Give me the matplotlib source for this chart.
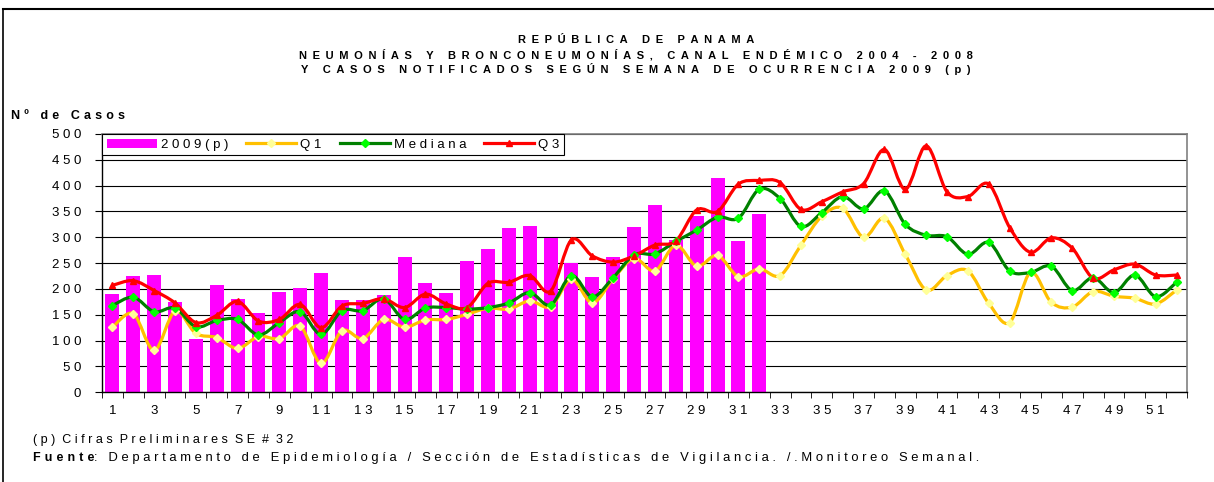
import numpy as np
import matplotlib
matplotlib.use("Agg")
import matplotlib.pyplot as plt
from matplotlib.path import Path
from matplotlib.patches import PathPatch, Patch
from matplotlib.lines import Line2D

plt.rcParams['font.family'] = ['Liberation Sans', 'DejaVu Sans']

# semanas epidemiologicas
semanas = list(range(1, 53))
casos_2009 = [190, 225, 227, 175, 104, 208, 181, 154, 194, 202, 231, 179, 179,
              188, 261, 212, 192, 254, 278, 318, 322, 299, 250, 223, 262, 320,
              363, 295, 341, 415, 293, 345]
q1 = [126, 152, 81, 157, 114, 106, 85, 108, 104, 128, 56, 119, 104,
      141, 126, 140, 141, 151, 163, 161, 177, 166, 219, 173, 220, 259,
      235, 285, 244, 265, 224, 239, 226, 285, 341, 356, 300, 337, 267, 198,
      226, 235, 172, 135, 232, 174, 165, 195, 186, 182, 171, 198]
mediana = [168, 184, 156, 163, 127, 139, 141, 111, 135, 156, 112, 158, 158,
           181, 141, 163, 164, 161, 164, 173, 193, 169, 226, 185, 222, 266,
           268, 292, 314, 339, 337, 393, 375, 321, 348, 379, 355, 390, 325, 304,
           301, 267, 290, 235, 232, 244, 197, 222, 193, 227, 185, 213]
q3 = [207, 216, 197, 173, 135, 149, 176, 138, 141, 170, 125, 167, 172,
      181, 164, 190, 171, 164, 211, 213, 226, 196, 295, 264, 252, 264,
      285, 293, 353, 350, 403, 410, 406, 354, 369, 388, 404, 470, 393, 477,
      388, 379, 403, 319, 271, 299, 279, 221, 237, 248, 227, 227]
yticks = list(range(0, 501, 50))
xlabels = list(range(1, 53, 2))

EN = '\u2002'
TPE = '\u2004'


def sp(s, gap=' ', word=None):
    # espaciado de letras como en excel
    if word is None:
        word = gap + ' ' + gap
    return word.join(gap.join(w) for w in s.split(' '))


def smooth_path(xs, ys):
    pts = np.column_stack([xs, ys]).astype(float)
    verts = [pts[0]]
    codes = [Path.MOVETO]
    n = len(pts)
    for i in range(n - 1):
        p0 = pts[i - 1] if i > 0 else pts[i]
        p1 = pts[i]
        p2 = pts[i + 1]
        p3 = pts[i + 2] if i + 2 < n else pts[i + 1]
        verts += [p1 + (p2 - p0) / 6, p2 - (p3 - p1) / 6, p2]
        codes += [Path.CURVE4] * 3
    return Path(verts, codes)


W, H = 1214, 482
fig = plt.figure(figsize=(W / 100, H / 100), dpi=100)
ax = fig.add_axes([102 / W, 1 - 392.3 / H, 1085 / W, (392.3 - 134) / H])

ax.bar(semanas[:len(casos_2009)], casos_2009, width=0.67, color='#FF00FF', zorder=2)

series = [
    (q1, '#FFC000', 'D', '#FFFF99', 4),
    (mediana, '#008000', 'D', '#00FF00', 4),
    (q3, '#FF0000', '^', '#FF0000', 5),
]
for data, col, mk, mcol, ms in series:
    ax.add_patch(PathPatch(smooth_path(semanas, data), fill=False, edgecolor=col,
                           lw=2.3, zorder=3, capstyle='round', joinstyle='round'))
    ax.plot(semanas, data, ls='none', marker=mk, ms=ms, mfc=mcol, mec=mcol, zorder=4)

ax.set_xlim(0.5, 52.5)
ax.set_ylim(0, 500)
ax.set_yticks(yticks)
ax.set_yticklabels([sp(str(v)) for v in yticks], fontsize=9.5)
ax.set_xticks(xlabels)
ax.set_xticklabels([sp(str(v)) for v in xlabels], fontsize=9.5)
ax.set_xticks(np.arange(0.5, 53, 1), minor=True)
ax.tick_params(axis='x', which='major', length=0, pad=9)
ax.tick_params(axis='x', which='minor', length=4, direction='out', color='black')
ax.tick_params(axis='y', length=5, direction='out', pad=10)
ax.yaxis.grid(True, color='black', lw=0.8)
ax.set_axisbelow(True)
for s in ['top', 'right']:
    ax.spines[s].set_color('#808080')
    ax.spines[s].set_linewidth(1.2)
for s in ['left', 'bottom']:
    ax.spines[s].set_color('black')
    ax.spines[s].set_linewidth(1.0)

handles = [
    Patch(fc='#FF00FF'),
    Line2D([], [], color='#FFC000', lw=2.3, marker='D', ms=4, mfc='#FFFF99', mec='#FFFF99'),
    Line2D([], [], color='#008000', lw=2.3, marker='D', ms=4, mfc='#00FF00', mec='#00FF00'),
    Line2D([], [], color='#FF0000', lw=2.3, marker='^', ms=5, mfc='#FF0000', mec='#FF0000'),
]
labels = [sp('2009(p)'), sp('Q1'), sp('Mediana'), sp('Q3')]
leg = ax.legend(handles, labels, ncol=4, loc='upper left', bbox_to_anchor=(0, 0, 0.426, 1),
                mode='expand', borderaxespad=0, fancybox=False, edgecolor='black',
                framealpha=1, handlelength=3.8, handletextpad=0.3, columnspacing=0.9,
                fontsize=9.5, borderpad=0.35)
leg.get_frame().set_linewidth(0.8)

titulo = ['REPÚBLICA DE PANAMA',
          'NEUMONÍAS Y BRONCONEUMONÍAS, CANAL ENDÉMICO 2004 - 2008',
          'Y CASOS NOTIFICADOS SEGÚN SEMANA DE OCURRENCIA 2009 (p)']
for i, t in enumerate(titulo):
    fig.text(636 / W, 1 - (40 + 14.5 * i) / H, sp(t, EN), ha='center', va='center',
             fontsize=8, fontweight='bold')

fig.text(11 / W, 1 - 115.7 / H, sp('Nº de Casos', TPE), va='center', fontsize=9, fontweight='bold')

fig.text(33 / W, 1 - 440 / H, sp('(p) Cifras Preliminares SE # 32', ' ', '  '), va='center', fontsize=9)
t1 = fig.text(33 / W, 1 - 457.7 / H, sp('Fuente', TPE), va='center', fontsize=9, fontweight='bold')
ax.annotate(sp(': Departamento de Epidemiología / Sección de Estadísticas de Vigilancia. /.Monitoreo Semanal.', ' ', '   '),
            xy=(1, 0.5), xycoords=t1, va='center', ha='left', fontsize=9.4, annotation_clip=False)

fig.add_artist(Line2D([3 / W, 1], [1 - 9 / H, 1 - 9 / H], transform=fig.transFigure, color='black', lw=1.5))
fig.add_artist(Line2D([3 / W, 3 / W], [0, 1 - 9 / H], transform=fig.transFigure, color='black', lw=1.2))

fig.savefig('out.png', dpi=100)
